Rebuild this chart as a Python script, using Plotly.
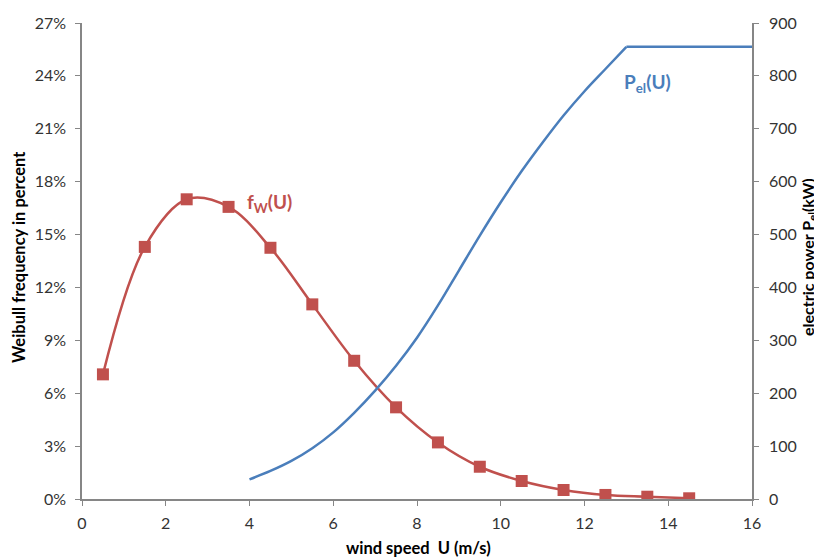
import plotly.graph_objects as go

# Weibull frequency (fraction) at bin centres
u_weibull = [0.5, 1.5, 2.5, 3.5, 4.5, 5.5, 6.5, 7.5, 8.5, 9.5, 10.5, 11.5, 12.5, 13.5, 14.5]
f_weibull = [0.0707, 0.1430, 0.1700, 0.1657, 0.1425, 0.1104, 0.0784, 0.0520, 0.0321,
             0.0183, 0.0102, 0.0051, 0.0023, 0.0013, 0.0004]

# Power curve (kW)
u_power = [4, 4.5, 5, 5.5, 6, 6.5, 7, 7.5, 8, 8.5, 9, 9.5, 10, 10.5, 11, 11.5, 12, 12.5,
           13, 13.5, 14, 14.5, 15, 15.5, 16]
p_power = [37, 53, 72, 96, 126, 163, 205, 252, 305, 366, 432, 498, 561, 620, 674, 725, 771, 813,
           855, 855, 855, 855, 855, 855, 855]

x_ticks = [0, 2, 4, 6, 8, 10, 12, 14, 16]
y_left_ticks = [0, 0.03, 0.06, 0.09, 0.12, 0.15, 0.18, 0.21, 0.24, 0.27]
y_right_ticks = [0, 100, 200, 300, 400, 500, 600, 700, 800, 900]

RED = "#C0504D"
BLUE = "#4A7EBB"
AXIS = "#868686"
TXT = "#333333"
FONT = "Lato"

# split power curve at rated speed (rising part smoothed, rated part straight)
i_rated = u_power.index(13)

fig = go.Figure()
fig.add_trace(go.Scatter(
    x=u_weibull, y=f_weibull, mode="lines+markers",
    line=dict(color=RED, width=2.5, shape="spline", smoothing=1.0),
    marker=dict(symbol="square", size=12, color=RED),
    showlegend=False, yaxis="y"))
fig.add_trace(go.Scatter(
    x=u_power[:i_rated + 1], y=p_power[:i_rated + 1], mode="lines",
    line=dict(color=BLUE, width=2.5, shape="spline", smoothing=1.0),
    showlegend=False, yaxis="y2"))
fig.add_trace(go.Scatter(
    x=u_power[i_rated:], y=p_power[i_rated:], mode="lines",
    line=dict(color=BLUE, width=2.5),
    showlegend=False, yaxis="y2"))

axis_common = dict(showline=True, linecolor=AXIS, linewidth=1.5, ticks="outside",
                   tickcolor=AXIS, ticklen=5, showgrid=False, zeroline=False,
                   automargin=False,
                   tickfont=dict(family=FONT, size=16, color=TXT))

# the page body adds an 8px margin, so the figure is 8px smaller than the window
fig.update_layout(
    width=814, height=550,
    margin=dict(l=74, r=70, t=15, b=59),
    plot_bgcolor="white", paper_bgcolor="white",
    xaxis=dict(range=[0, 16], tickvals=x_ticks, ticklabelstandoff=4, **axis_common),
    yaxis=dict(range=[0, 0.27], tickvals=y_left_ticks, tickformat=".0%",
               ticklabelstandoff=6, **axis_common),
    yaxis2=dict(range=[0, 900], tickvals=y_right_ticks, overlaying="y", side="right",
                ticklabelstandoff=7, **axis_common),
)

title_font = dict(family=FONT, size=16.5, color="black")
fig.add_annotation(text="<b>Weibull frequency in percent</b>", xref="paper", yref="paper",
                   x=0, xshift=-63, y=0.5, yshift=4, textangle=-90, showarrow=False,
                   font=title_font, xanchor="center", yanchor="middle")
fig.add_annotation(text="<b>electric power P<sub>el</sub>(kW)</b>", xref="paper", yref="paper",
                   x=1, xshift=56, y=0.5, yshift=4, textangle=-90, showarrow=False,
                   font=dict(family=FONT, size=16, color="black"),
                   xanchor="center", yanchor="middle")
fig.add_annotation(text="<b>wind speed  U (m/s)</b>", xref="paper", yref="paper",
                   x=0.5, xshift=1, y=0, yshift=-49, showarrow=False,
                   font=title_font, xanchor="center", yanchor="middle")

fig.add_annotation(text="<b>f<sub>W</sub>(U)</b>", x=3.9, y=0.168, xref="x", yref="y",
                   showarrow=False, xanchor="left", yanchor="middle",
                   font=dict(family=FONT, size=19, color=RED))
fig.add_annotation(text="<b>P<sub>el</sub>(U)</b>", x=12.9, y=786, xref="x", yref="y2",
                   showarrow=False, xanchor="left", yanchor="middle",
                   font=dict(family=FONT, size=19, color=BLUE))

fig.write_html("out.html")
